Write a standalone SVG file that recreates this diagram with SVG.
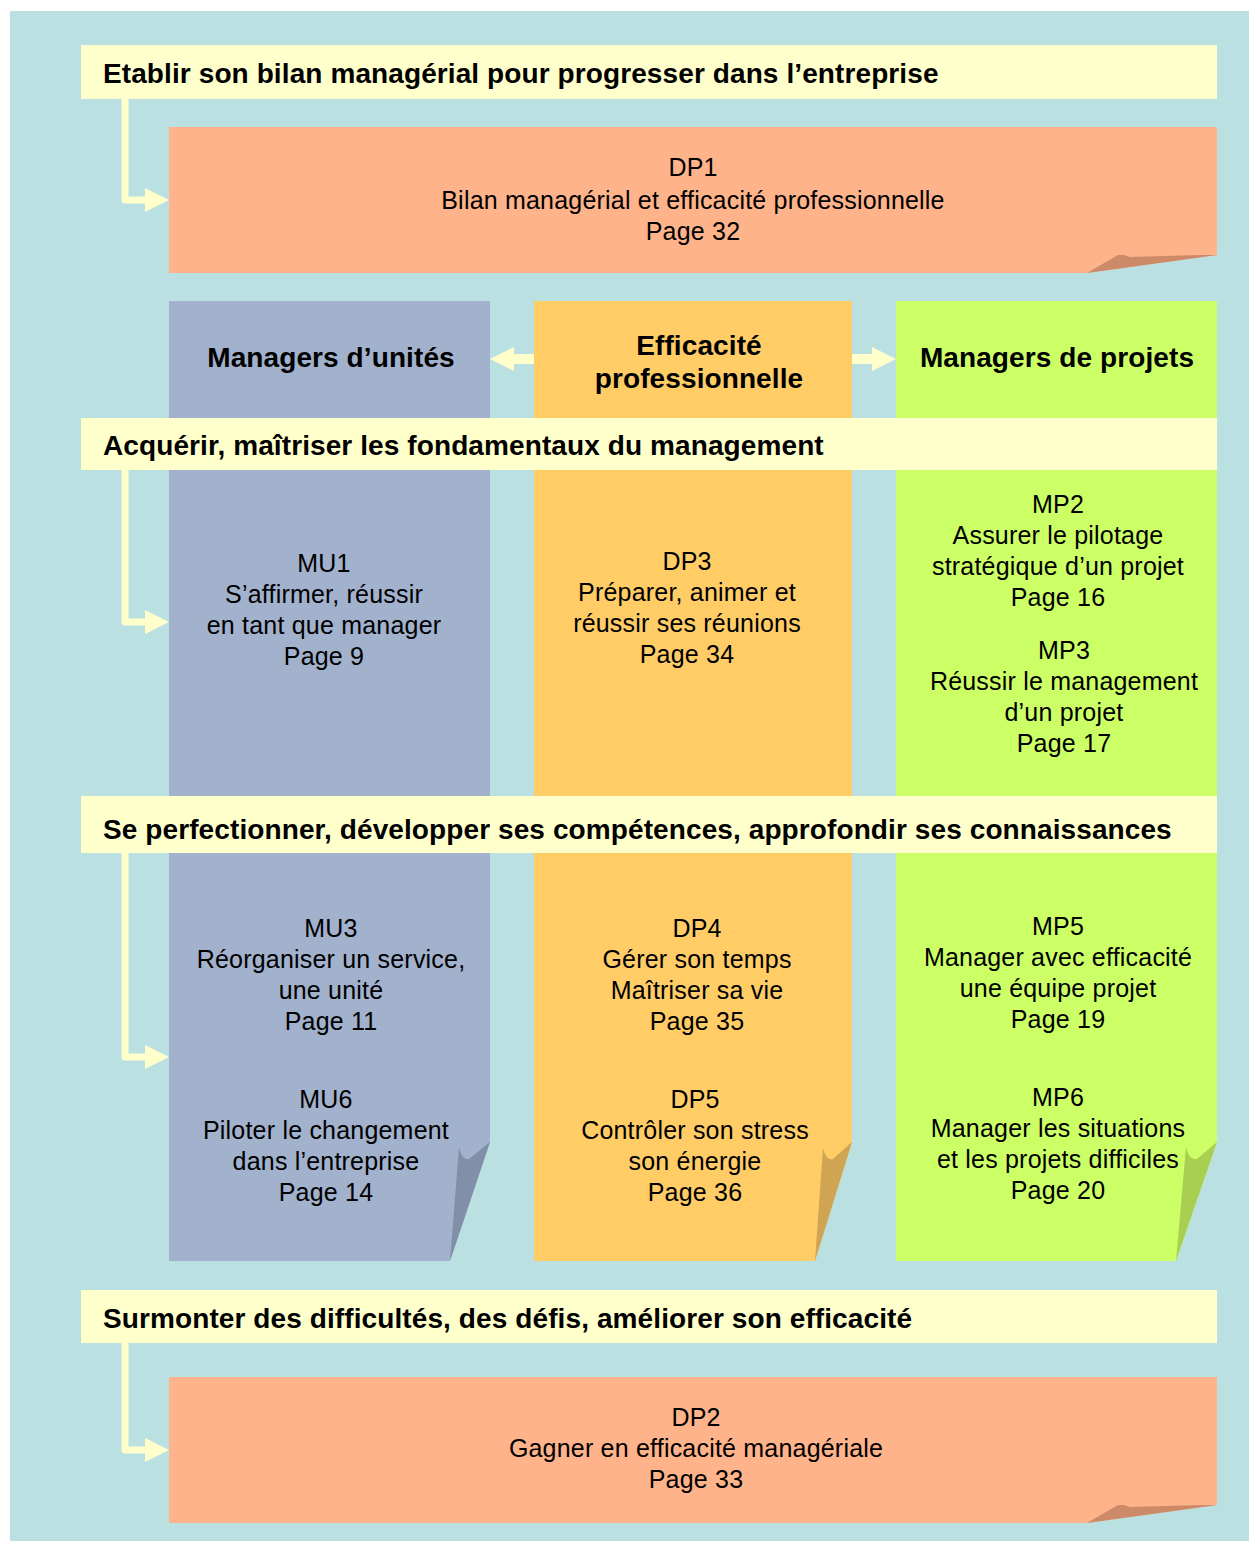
<svg xmlns="http://www.w3.org/2000/svg" width="1249" height="1543" viewBox="0 0 1249 1543">
<style>
.bn{fill:#FFFFCC}
.b{font-family:"Liberation Sans",Arial,sans-serif;font-weight:bold;font-size:28px;fill:#000;letter-spacing:0.1px}
.r{font-family:"Liberation Sans",Arial,sans-serif;font-size:25px;fill:#000;text-anchor:middle;letter-spacing:0.2px}
.hc{text-anchor:middle}
.ln{fill:none;stroke:#FFFFCC;stroke-width:7;stroke-linejoin:round;stroke-linecap:round}
.ah{fill:#FFFFCC}
</style>
<rect x="10" y="11" width="1239" height="1530" fill="#BAE0E2"/>

<g id="col-mu">
<path d="M169,301H490V1142L450,1261H169Z" fill="#A2B1CC"/>
<path d="M459,1147Q462,1161 469,1159L490,1142L450,1261Z" fill="#8190A8"/>
<text class="b hc" x="331" y="367">Managers d’unités</text>
</g>
<g id="col-dp">
<path d="M534,301H852V1142L815,1261H534Z" fill="#FFCC66"/>
<path d="M823,1148Q826,1161 833,1159L852,1142L815,1261Z" fill="#CFA452"/>
<text class="b hc" x="699" y="355">Efficacité</text>
<text class="b hc" x="699" y="388">professionnelle</text>
</g>
<g id="col-mp">
<path d="M896,301H1217V1142L1176,1261H896Z" fill="#CCFF66"/>
<path d="M1186,1147Q1189,1161 1197,1159L1217,1142L1176,1261Z" fill="#A9CF52"/>
<text class="b hc" x="1057" y="367">Managers de projets</text>
</g>

<g id="banner1"><rect class="bn" x="81" y="45" width="1136" height="54"/><text class="b" x="103" y="83">Etablir son bilan managérial pour progresser dans l’entreprise</text></g>
<g id="banner2"><rect class="bn" x="81" y="418" width="1136" height="52"/><text class="b" x="103" y="455">Acquérir, maîtriser les fondamentaux du management</text></g>
<g id="banner3"><rect class="bn" x="81" y="796" width="1136" height="57"/><text class="b" x="103" y="839">Se perfectionner, développer ses compétences, approfondir ses connaissances</text></g>
<g id="banner4"><rect class="bn" x="81" y="1290" width="1136" height="53"/><text class="b" x="103" y="1328">Surmonter des difficultés, des défis, améliorer son efficacité</text></g>

<g id="dp1">
<path d="M169,127H1217V255L1087,273H169Z" fill="#FFB38A"/>
<path d="M1087,273L1118,255L1124,255L1130,257L1200,255L1217,255Z" fill="#CC8A69"/>
<text class="r" x="693" y="176">DP1</text>
<text class="r" x="693" y="209">Bilan managérial et efficacité professionnelle</text>
<text class="r" x="693" y="240">Page 32</text>
</g>
<g id="dp2">
<path d="M169,1377H1217V1505L1087,1523H169Z" fill="#FFB38A"/>
<path d="M1087,1523L1118,1505L1124,1505L1130,1507L1200,1505L1217,1505Z" fill="#CC8A69"/>
<text class="r" x="696" y="1426">DP2</text>
<text class="r" x="696" y="1457">Gagner en efficacité managériale</text>
<text class="r" x="696" y="1488">Page 33</text>
</g>

<g id="mu1"><text class="r" x="324" y="572">MU1</text><text class="r" x="324" y="603">S’affirmer, réussir</text><text class="r" x="324" y="634">en tant que manager</text><text class="r" x="324" y="665">Page 9</text></g>
<g id="dp3"><text class="r" x="687" y="570">DP3</text><text class="r" x="687" y="601">Préparer, animer et</text><text class="r" x="687" y="632">réussir ses réunions</text><text class="r" x="687" y="663">Page 34</text></g>
<g id="mp2"><text class="r" x="1058" y="513">MP2</text><text class="r" x="1058" y="544">Assurer le pilotage</text><text class="r" x="1058" y="575">stratégique d’un projet</text><text class="r" x="1058" y="606">Page 16</text></g>
<g id="mp3"><text class="r" x="1064" y="659">MP3</text><text class="r" x="1064" y="690">Réussir le management</text><text class="r" x="1064" y="721">d’un projet</text><text class="r" x="1064" y="752">Page 17</text></g>
<g id="mu3"><text class="r" x="331" y="937">MU3</text><text class="r" x="331" y="968">Réorganiser un service,</text><text class="r" x="331" y="999">une unité</text><text class="r" x="331" y="1030">Page 11</text></g>
<g id="mu6"><text class="r" x="326" y="1108">MU6</text><text class="r" x="326" y="1139">Piloter le changement</text><text class="r" x="326" y="1170">dans l’entreprise</text><text class="r" x="326" y="1201">Page 14</text></g>
<g id="dp4"><text class="r" x="697" y="937">DP4</text><text class="r" x="697" y="968">Gérer son temps</text><text class="r" x="697" y="999">Maîtriser sa vie</text><text class="r" x="697" y="1030">Page 35</text></g>
<g id="dp5"><text class="r" x="695" y="1108">DP5</text><text class="r" x="695" y="1139">Contrôler son stress</text><text class="r" x="695" y="1170">son énergie</text><text class="r" x="695" y="1201">Page 36</text></g>
<g id="mp5"><text class="r" x="1058" y="935">MP5</text><text class="r" x="1058" y="966">Manager avec efficacité</text><text class="r" x="1058" y="997">une équipe projet</text><text class="r" x="1058" y="1028">Page 19</text></g>
<g id="mp6"><text class="r" x="1058" y="1106">MP6</text><text class="r" x="1058" y="1137">Manager les situations</text><text class="r" x="1058" y="1168">et les projets difficiles</text><text class="r" x="1058" y="1199">Page 20</text></g>

<g id="connectors">
<path class="ln" d="M125,99V200H147"/><polygon class="ah" points="145,188 169,200 145,212"/>
<path class="ln" d="M125,470V622H147"/><polygon class="ah" points="145,610 169,622 145,634"/>
<path class="ln" d="M125,853V1057H147"/><polygon class="ah" points="145,1045 169,1057 145,1069"/>
<path class="ln" d="M125,1343V1450H147"/><polygon class="ah" points="145,1438 169,1450 145,1462"/>
<rect class="ah" x="512" y="354" width="22" height="10"/><polygon class="ah" points="514,347 490,359 514,371"/>
<rect class="ah" x="852" y="354" width="22" height="10"/><polygon class="ah" points="872,347 896,359 872,371"/>
</g>
</svg>
